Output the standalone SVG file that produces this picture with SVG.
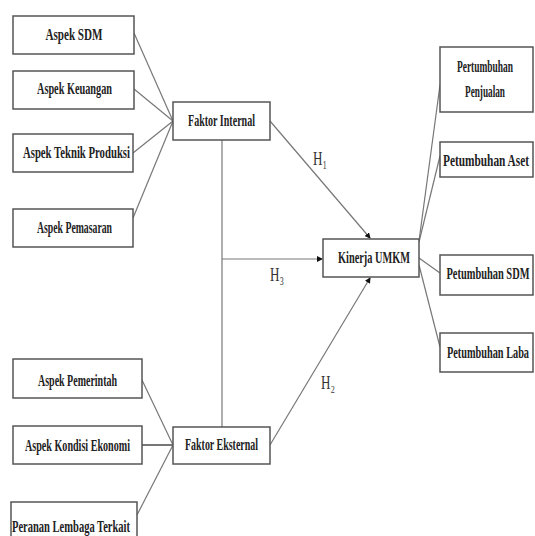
<svg xmlns="http://www.w3.org/2000/svg" width="535" height="536" viewBox="0 0 535 536">
<style>
.box{fill:#fff;stroke:#555;stroke-width:1.5}
.t{font-family:"Liberation Serif","Times New Roman",serif;font-weight:bold;font-size:16px;fill:#222;text-anchor:middle}
.c{fill:none;stroke:#777;stroke-width:1.2}
.h{font-family:"Liberation Serif","DejaVu Serif",serif;font-size:18px;fill:#333}
</style>
<defs>
<marker id="ar" markerWidth="6" markerHeight="6" refX="5" refY="3" orient="auto" markerUnits="userSpaceOnUse">
<path d="M0,0 L6,3 L0,6 z" fill="#111"/>
</marker>
</defs>
<rect width="535" height="536" fill="#fff"/>
<g id="connectors">
<line class="c" x1="134" y1="33" x2="173" y2="121"/>
<line class="c" x1="134" y1="89" x2="173" y2="121"/>
<line class="c" x1="133" y1="153" x2="173" y2="121"/>
<line class="c" x1="133" y1="218" x2="173" y2="121"/>
<line class="c" x1="142" y1="380" x2="173" y2="445"/>
<line class="c" x1="142" y1="445" x2="173" y2="445" style="stroke-width:2"/>
<line class="c" x1="137" y1="515" x2="173" y2="445"/>
<line class="c" x1="222" y1="140" x2="222" y2="427"/>
<line class="c" x1="222" y1="259" x2="322" y2="259" marker-end="url(#ar)"/>
<line class="c" x1="270" y1="121" x2="370" y2="238" marker-end="url(#ar)"/>
<line class="c" x1="270" y1="445" x2="370" y2="278" marker-end="url(#ar)"/>
<line class="c" x1="419" y1="241" x2="440" y2="85"/>
<line class="c" x1="419" y1="242" x2="440" y2="156"/>
<line class="c" x1="419" y1="258" x2="440" y2="273"/>
<line class="c" x1="419" y1="265" x2="440" y2="347"/>
<text class="h" x="313" y="165" textLength="14" lengthAdjust="spacingAndGlyphs">H₁</text>
<text class="h" x="270" y="281" textLength="14" lengthAdjust="spacingAndGlyphs">H₃</text>
<text class="h" x="321" y="389" textLength="14" lengthAdjust="spacingAndGlyphs">H₂</text>
</g>
<g id="aspek-sdm"><rect class="box" x="13" y="16" width="121" height="38"/><text class="t" x="74" y="40" textLength="57" lengthAdjust="spacingAndGlyphs">Aspek  SDM</text></g>
<g id="aspek-keuangan"><rect class="box" x="13" y="71" width="121" height="38"/><text class="t" x="74.5" y="94" textLength="75" lengthAdjust="spacingAndGlyphs">Aspek Keuangan</text></g>
<g id="aspek-teknik"><rect class="box" x="13" y="134" width="120" height="38"/><text class="t" x="76.5" y="158" textLength="107" lengthAdjust="spacingAndGlyphs">Aspek Teknik Produksi</text></g>
<g id="aspek-pemasaran"><rect class="box" x="13" y="209" width="120" height="38"/><text class="t" x="74.5" y="233" textLength="75" lengthAdjust="spacingAndGlyphs">Aspek Pemasaran</text></g>
<g id="faktor-internal"><rect class="box" x="173" y="102" width="97" height="38"/><text class="t" x="221.5" y="126" textLength="67" lengthAdjust="spacingAndGlyphs">Faktor Internal</text></g>
<g id="kinerja-umkm"><rect class="box" x="323" y="239" width="96" height="38"/><text class="t" x="374" y="263" textLength="72" lengthAdjust="spacingAndGlyphs">Kinerja UMKM</text></g>
<g id="pertumbuhan-penjualan"><rect class="box" x="440" y="47" width="93" height="65"/><text class="t" x="485" y="72" textLength="56" lengthAdjust="spacingAndGlyphs">Pertumbuhan</text><text class="t" x="485" y="97" textLength="40" lengthAdjust="spacingAndGlyphs">Penjualan</text></g>
<g id="petumbuhan-aset"><rect class="box" x="440" y="142" width="93" height="35"/><text class="t" x="486" y="166" textLength="86" lengthAdjust="spacingAndGlyphs">Petumbuhan Aset</text></g>
<g id="petumbuhan-sdm"><rect class="box" x="440" y="255" width="93" height="40"/><text class="t" x="488" y="279" textLength="83" lengthAdjust="spacingAndGlyphs">Petumbuhan SDM</text></g>
<g id="petumbuhan-laba"><rect class="box" x="440" y="333" width="93" height="39"/><text class="t" x="488" y="358" textLength="82" lengthAdjust="spacingAndGlyphs">Petumbuhan Laba</text></g>
<g id="aspek-pemerintah"><rect class="box" x="13" y="359" width="129" height="39"/><text class="t" x="77.5" y="386" textLength="79" lengthAdjust="spacingAndGlyphs">Aspek Pemerintah</text></g>
<g id="aspek-kondisi"><rect class="box" x="13" y="426" width="129" height="38"/><text class="t" x="77.5" y="451" textLength="105" lengthAdjust="spacingAndGlyphs">Aspek Kondisi Ekonomi</text></g>
<g id="peranan-lembaga"><rect class="box" x="11" y="502" width="126" height="40"/><text class="t" x="71" y="532" textLength="118" lengthAdjust="spacingAndGlyphs">Peranan Lembaga Terkait</text></g>
<g id="faktor-eksternal"><rect class="box" x="173" y="427" width="97" height="37"/><text class="t" x="221.5" y="450" textLength="73" lengthAdjust="spacingAndGlyphs">Faktor Eksternal</text></g>
</svg>
